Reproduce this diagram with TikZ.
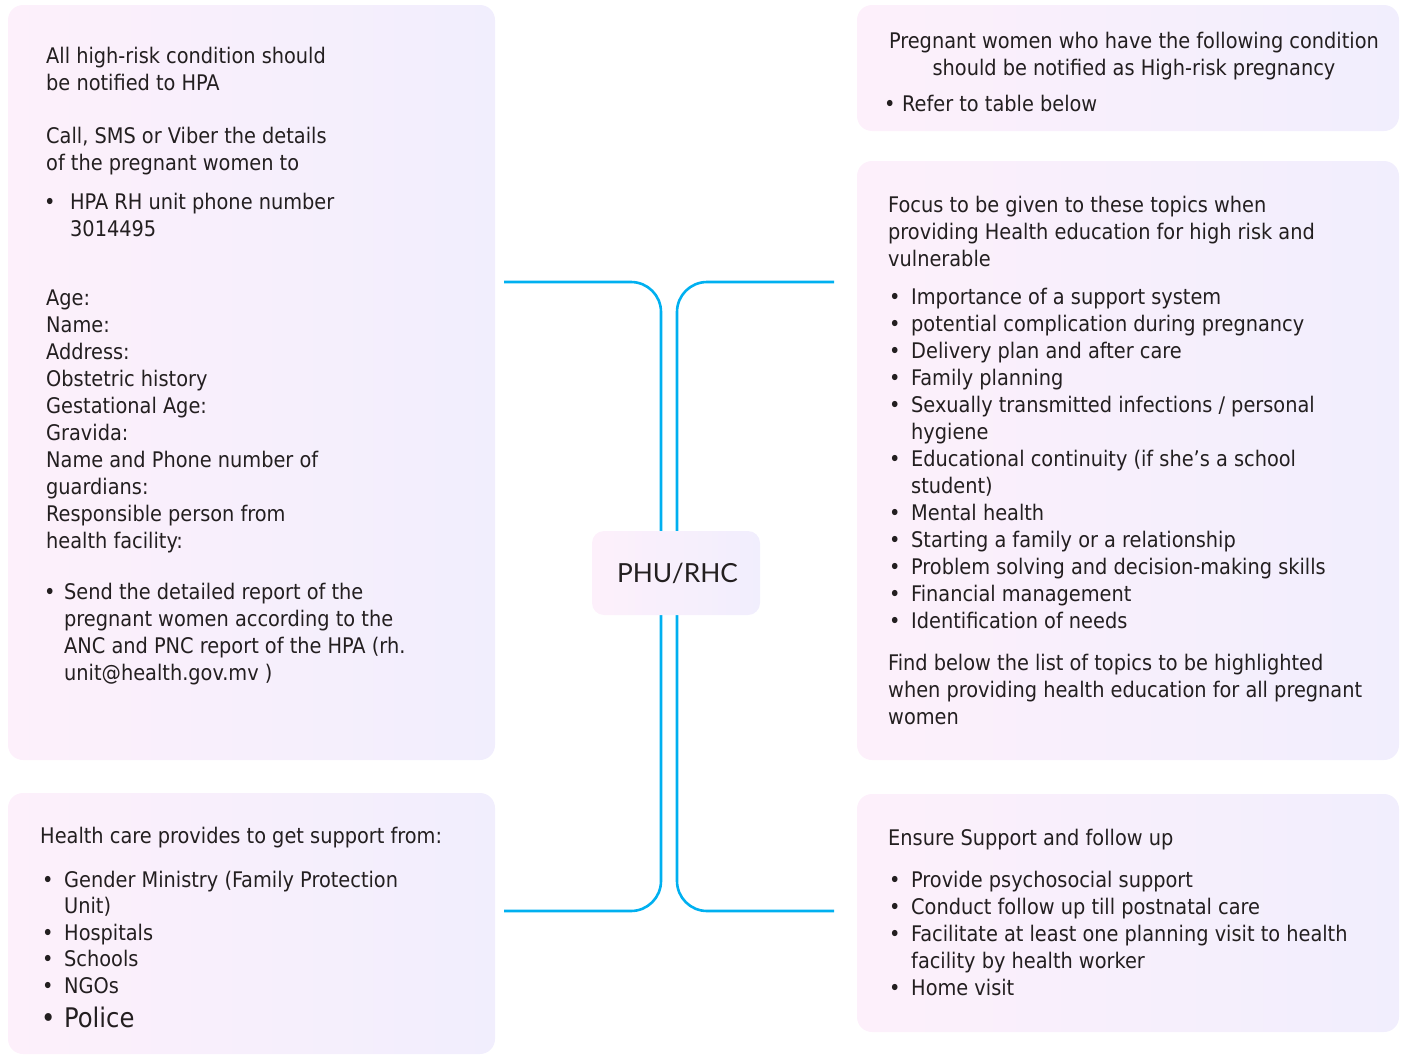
\documentclass[tikz,border=0pt]{standalone}
\usepackage{fontspec}
\setmainfont{DejaVu Sans Condensed}
\newfontfamily\hubfont{Lato}
\usepackage{xcolor}
\usepackage{tikz}
\usetikzlibrary{positioning, calc, backgrounds}

\definecolor{panelL}{HTML}{FDF0FB}
\definecolor{panelR}{HTML}{F1EEFD}
\definecolor{linkblue}{HTML}{00B0F0}
\definecolor{ink}{HTML}{231F20}

%% bullet in a fixed-width box
\newcommand{\bul}[1]{\makebox[#1][l]{•}}

\tikzset{
  %% Pastel panel behind each text block
  panel/.style={
    rectangle, rounded corners=15pt,
    left color=panelL, right color=panelR, draw=none,
    inner sep=0pt
  },
  %% Central hub
  hub/.style={
    rectangle, rounded corners=12pt,
    left color=panelL, right color=panelR, draw=none,
    minimum width=168pt, minimum height=84pt,
    font=\hubfont\fontsize{26.3}{32}\selectfont, text=ink
  },
  %% Body text (placed at the baseline of its last line)
  txt/.style={
    anchor=base west, align=left, inner sep=0pt, text=ink,
    font=\fontsize{21.5}{27}\selectfont
  },
  %% Branch line
  link/.style={draw=linkblue, line width=2.6pt, rounded corners=30pt},
}

\begin{document}
\begin{tikzpicture}[x=1pt, y=-1pt]
  \useasboundingbox (0,0) rectangle (1401,1055);

  %% panels
  \node[panel, minimum width=487pt, minimum height=755pt] (tl) at (251.5,382.5) {};
  \node[panel, minimum width=487pt, minimum height=261pt] (bl) at (251.5,923.5) {};
  \node[panel, minimum width=542pt, minimum height=126pt] (tr) at (1128,68) {};
  \node[panel, minimum width=542pt, minimum height=599pt] (mr) at (1128,460.5) {};
  \node[panel, minimum width=542pt, minimum height=238pt] (br) at (1128,913) {};

  %% hub
  \node[hub] (hub) at (676,573) {\hspace{3pt}PHU/RHC};

  %% free ends of the branches
  \coordinate (tlend) at (504,282);
  \coordinate (trend) at (834,282);
  \coordinate (blend) at (504,911);
  \coordinate (brend) at (834,911);

  \begin{scope}[on background layer]
    \draw[link] ([xshift=-15pt]hub.north) |- (tlend);
    \draw[link] ([xshift=1pt]hub.north) |- (trend);
    \draw[link] ([xshift=-15pt]hub.south) |- (blend);
    \draw[link] ([xshift=1pt]hub.south) |- (brend);
  \end{scope}

  %% top left
  \node[txt] (tlhead) at (46,90) {All high-risk condition should\\be notified to HPA};
  \node[txt] (tlcall) at (46,170) {Call, SMS or Viber the details\\of the pregnant women to};
  \node[txt] (tlphone) at (44,236) {\bul{26pt}HPA RH unit phone number\\\hspace*{26pt}3014495};
  \node[txt] (tlform) at (46,548) {Age:\\Name:\\Address:\\Obstetric history\\Gestational Age:\\Gravida:\\Name and Phone number of\\guardians:\\Responsible person from\\health facility:};
  \node[txt] (tlsend) at (44,680) {\bul{20pt}Send the detailed report of the\\\hspace*{20pt}pregnant women according to the\\\hspace*{20pt}ANC and PNC report of the HPA (rh.\\\hspace*{20pt}unit@health.gov.mv )};

  %% bottom left
  \node[txt] (blhead) at (40,843) {Health care provides to get support from:};
  \node[txt, font=\fontsize{21.5}{26.5}\selectfont] (bllist) at (42,993) {\bul{22pt}Gender Ministry (Family Protection\\\hspace*{22pt}Unit)\\\bul{22pt}Hospitals\\\bul{22pt}Schools\\\bul{22pt}NGOs};
  \node[txt, font=\fontsize{27}{32}\selectfont] (blpolice) at (41,1027) {\bul{23pt}Police};

  %% top right
  \node[txt, align=center, anchor=base] (trhead) at (1134,75) {Pregnant women who have the following condition\\should be notified as High-risk pregnancy};
  \node[txt] (trlist) at (884,111) {\bul{18pt}Refer to table below};

  %% middle right
  \node[txt] (mrhead) at (888,266) {Focus to be given to these topics when\\providing Health education for high risk and\\vulnerable};
  \node[txt] (mrlist) at (889,628) {\bul{22pt}Importance of a support system\\\bul{22pt}potential complication during pregnancy\\\bul{22pt}Delivery plan and after care\\\bul{22pt}Family planning\\\bul{22pt}Sexually transmitted infections / personal\\\hspace*{22pt}hygiene\\\bul{22pt}Educational continuity (if she’s a school\\\hspace*{22pt}student)\\\bul{22pt}Mental health\\\bul{22pt}Starting a family or a relationship\\\bul{22pt}Problem solving and decision-making skills\\\bul{22pt}Financial management\\\bul{22pt}Identification of needs};
  \node[txt] (mrfind) at (888,724) {Find below the list of topics to be highlighted\\when providing health education for all pregnant\\women};

  %% bottom right
  \node[txt] (brhead) at (888,845) {Ensure Support and follow up};
  \node[txt] (brlist) at (889,995) {\bul{22pt}Provide psychosocial support\\\bul{22pt}Conduct follow up till postnatal care\\\bul{22pt}Facilitate at least one planning visit to health\\\hspace*{22pt}facility by health worker\\\bul{22pt}Home visit};
\end{tikzpicture}
\end{document}
